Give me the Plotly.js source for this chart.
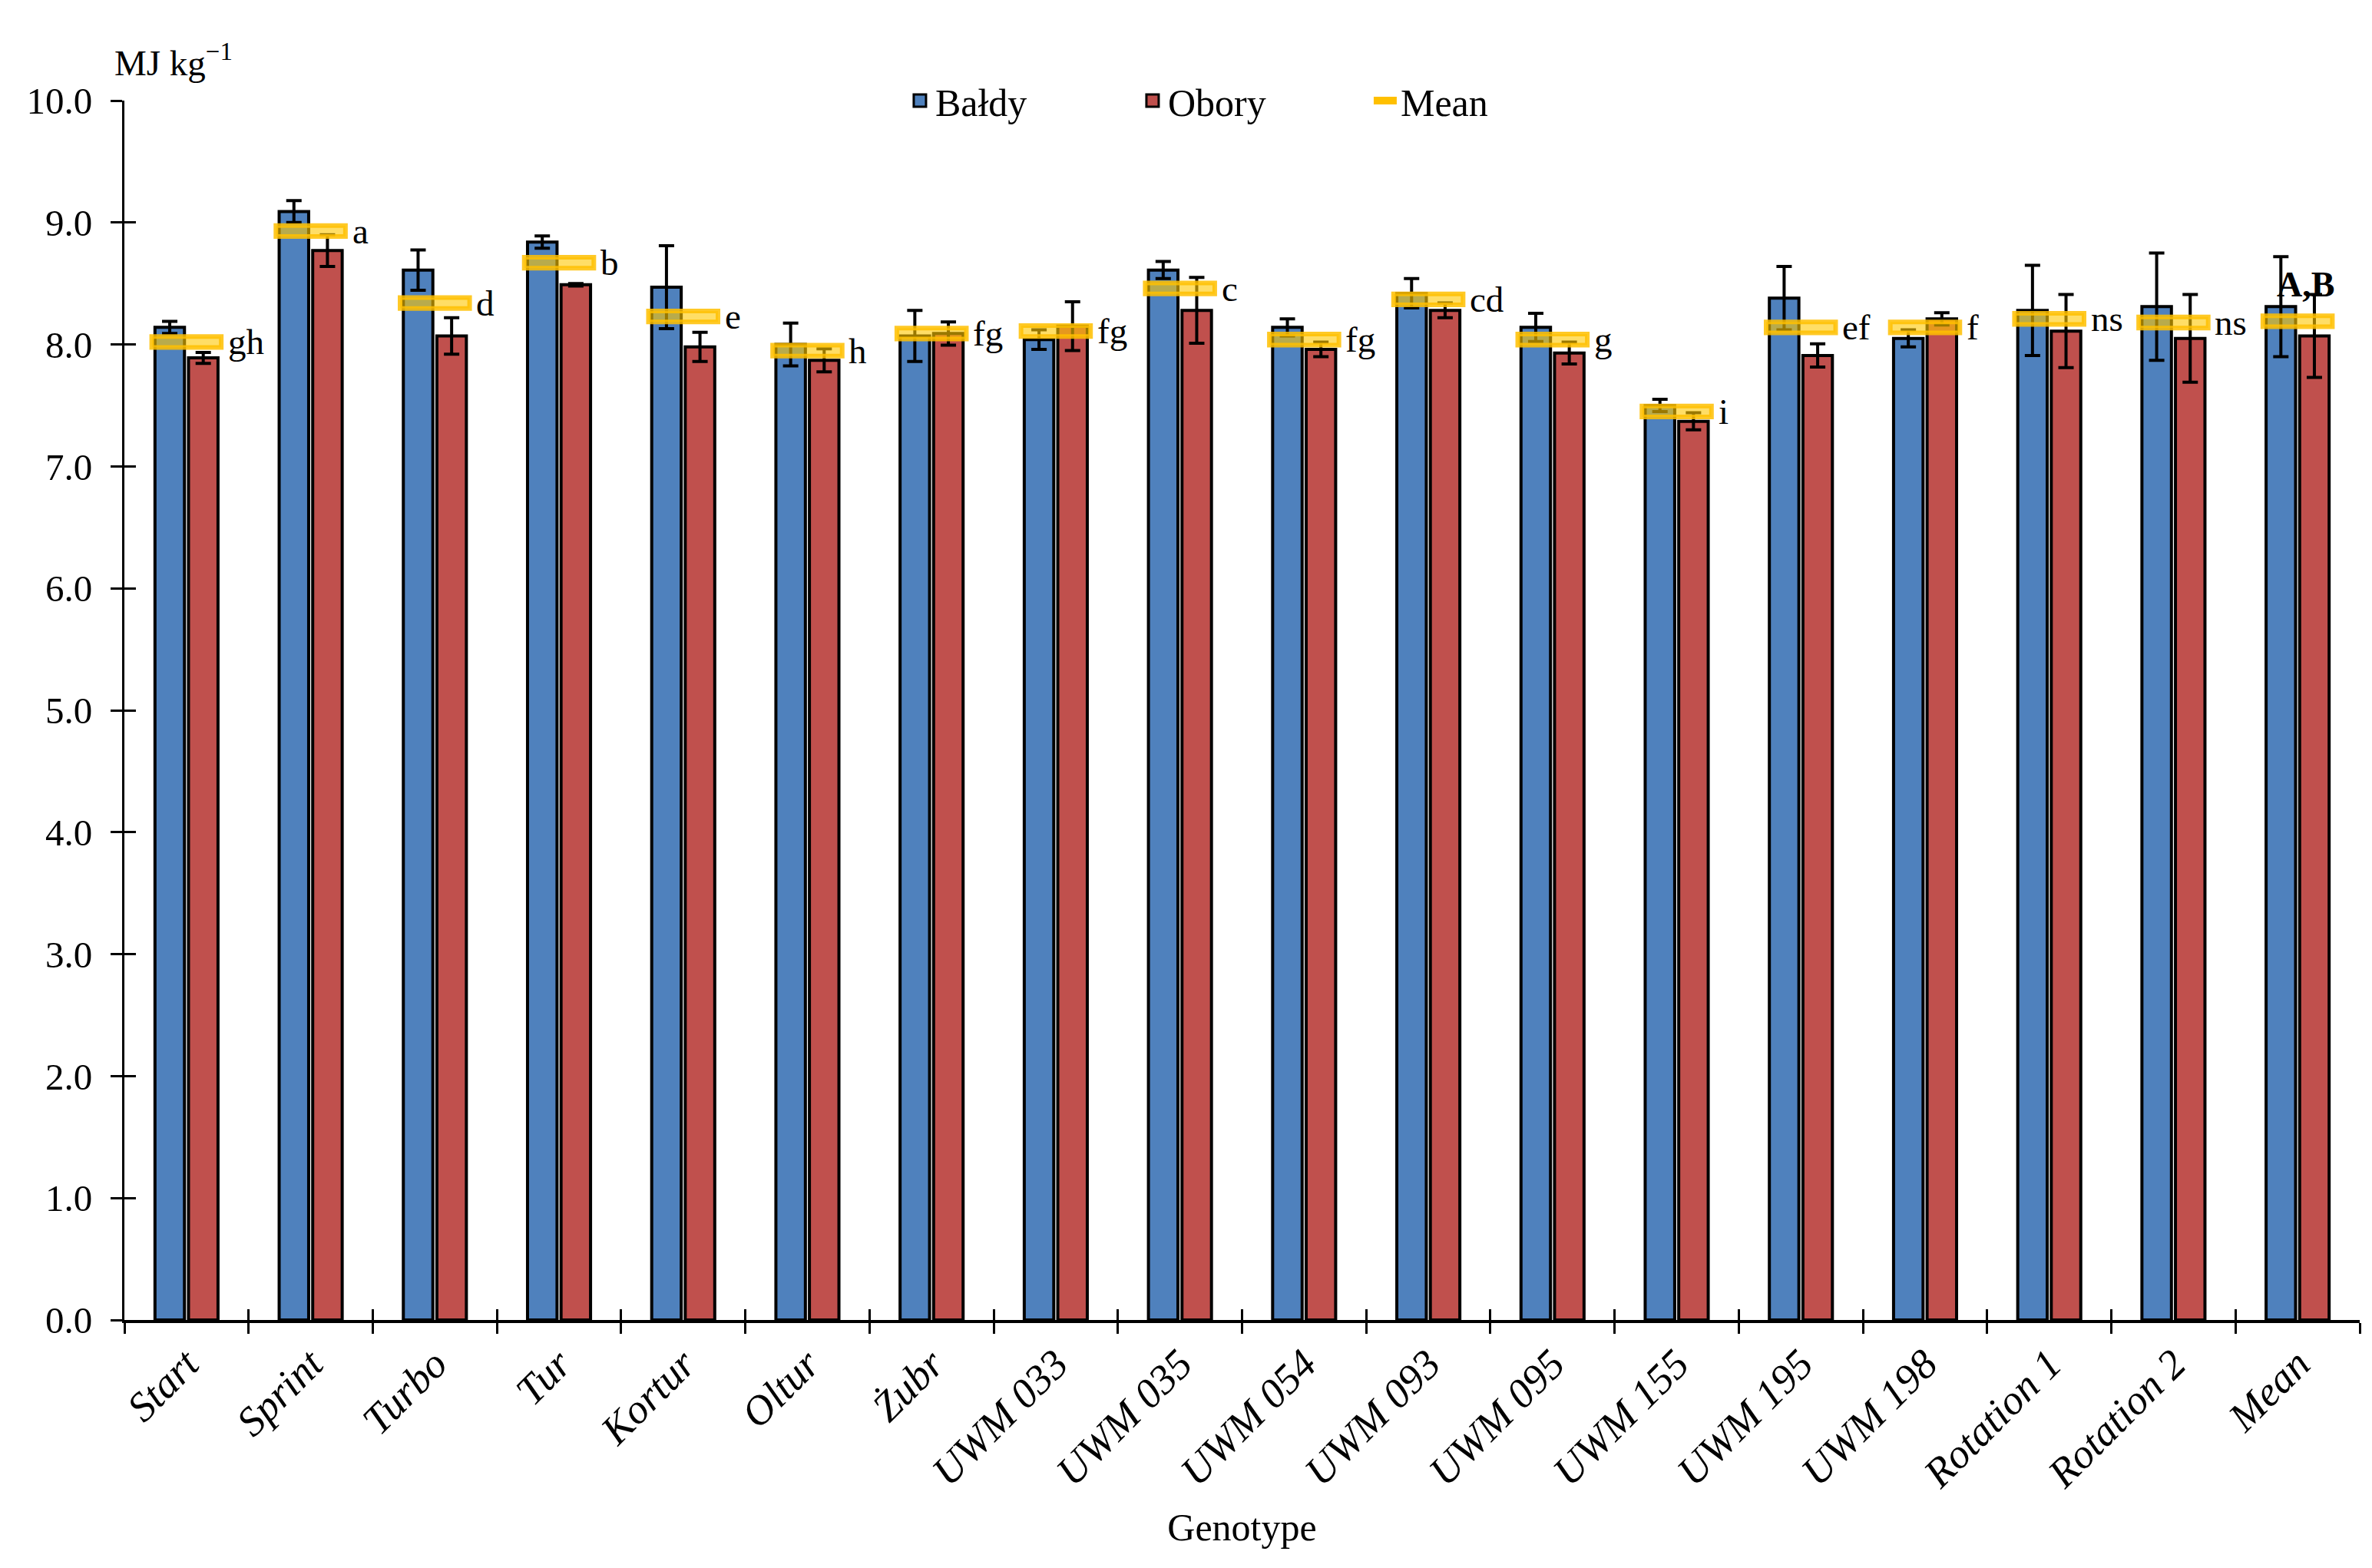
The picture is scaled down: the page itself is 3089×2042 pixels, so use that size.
<!DOCTYPE html>
<html>
<head>
<meta charset="utf-8">
<script src="https://cdn.plot.ly/plotly-3.0.1.min.js"></script>
<style>html,body{margin:0;padding:0;background:#fff;}#chart{width:3089px;height:2042px;}</style>
</head>
<body>
<div id="chart"></div>
<script>
const categories = ["Start","Sprint","Turbo","Tur","Kortur","Oltur","Żubr","UWM 033","UWM 035","UWM 054","UWM 093","UWM 095","UWM 155","UWM 195","UWM 198","Rotation 1","Rotation 2","Mean"];
const baldy    = [8.14, 9.09, 8.61, 8.84, 8.47, 8.00, 8.07, 8.04, 8.61, 8.14, 8.42, 8.14, 7.50, 8.38, 8.05, 8.28, 8.31, 8.31];
const baldyErr = [0.05, 0.09, 0.165, 0.05, 0.34, 0.175, 0.21, 0.08, 0.07, 0.07, 0.12, 0.115, 0.05, 0.26, 0.07, 0.37, 0.44, 0.41];
const obory    = [7.89, 8.77, 8.07, 8.49, 7.98, 7.87, 8.09, 8.15, 8.28, 7.96, 8.28, 7.93, 7.37, 7.91, 8.21, 8.11, 8.05, 8.07];
const oboryErr = [0.045, 0.13, 0.15, 0.01, 0.12, 0.095, 0.095, 0.20, 0.27, 0.06, 0.06, 0.09, 0.07, 0.095, 0.05, 0.30, 0.36, 0.34];
const means    = [8.02, 8.93, 8.34, 8.67, 8.23, 7.95, 8.09, 8.11, 8.46, 8.04, 8.37, 8.04, 7.45, 8.14, 8.14, 8.21, 8.18, 8.19];
const letters  = ["gh","a","d","b","e","h","fg","fg","c","fg","cd","g","i","ef","f","ns","ns",""];
const groupLabel = "A,B";
const yTicks = [0,1,2,3,4,5,6,7,8,9,10];

const FONT = "Liberation Serif";
const markHalf = 0.045;

const errStyle = {type:'data', visible:true, color:'#000', thickness:4, width:10};

const traces = [
  {type:'bar', name:'Bałdy', showlegend:false, x:categories, y:baldy, xaxis:'x', yaxis:'y',
   marker:{color:'#4F81BD', line:{color:'#000', width:4}},
   error_y:Object.assign({array:baldyErr}, errStyle)},
  {type:'bar', name:'Obory', showlegend:false, x:categories, y:obory, xaxis:'x', yaxis:'y',
   marker:{color:'#C0504D', line:{color:'#000', width:4}},
   error_y:Object.assign({array:oboryErr}, errStyle)},
  {type:'bar', name:'Mean', showlegend:false, x:categories,
   y:means.map(()=>2*markHalf), base:means.map(m=>m-markHalf),
   width:0.56, xaxis:'x2', yaxis:'y2',
   marker:{color:'rgba(255,200,0,0.6)', line:{color:'rgba(255,192,0,0.85)', width:6}}},
  {type:'scatter', mode:'markers', name:'Bałdy', x:[null], y:[null], xaxis:'x', yaxis:'y',
   marker:{symbol:'square', size:16, color:'#4F81BD', line:{color:'#000', width:3}}},
  {type:'scatter', mode:'markers', name:'Obory', x:[null], y:[null], xaxis:'x', yaxis:'y',
   marker:{symbol:'square', size:16, color:'#C0504D', line:{color:'#000', width:3}}},
  {type:'scatter', mode:'lines', name:'Mean', x:[null], y:[null], xaxis:'x', yaxis:'y',
   line:{color:'#FFC000', width:10}}
];

const annotations = categories.map((c,i)=>({
  x:c, y:means[i], xref:'x', yref:'y', text:letters[i], showarrow:false,
  xanchor:'left', yanchor:'middle', xshift:52,
  font:{family:FONT, size:47, color:'#000'}
})).filter(a=>a.text!=="");

annotations.push({
  x:categories[categories.length-1], y:means[means.length-1]+0.3, xref:'x', yref:'y',
  text:'<b>'+groupLabel+'</b>', showarrow:false, xanchor:'center', yanchor:'middle', xshift:10,
  font:{family:FONT, size:46, color:'#000'}
});
annotations.push({
  x:-0.005, y:1.033, xref:'paper', yref:'paper', text:'MJ kg<sup>−1</sup>', showarrow:false,
  xanchor:'left', yanchor:'middle', font:{family:FONT, size:47, color:'#000'}
});

const layout = {
  width:3089, height:2042,
  margin:{l:162, r:16, t:131, b:323},
  paper_bgcolor:'#fff', plot_bgcolor:'#fff',
  barmode:'group', bargap:0.46, bargroupgap:0.12,
  showlegend:true,
  legend:{orientation:'h', x:0.349, xanchor:'left', y:1.0, yanchor:'middle',
          font:{family:FONT, size:50, color:'#000'}, entrywidth:258, entrywidthmode:'pixels',
          bgcolor:'rgba(0,0,0,0)', traceorder:'normal'},
  font:{family:FONT, color:'#000'},
  xaxis:{type:'category', categoryorder:'array', categoryarray:categories, range:[-0.5,17.5],
         showline:true, linecolor:'#000', linewidth:4, ticks:'outside', tickson:'boundaries',
         ticklen:14, tickwidth:3, tickcolor:'#000', tickangle:-45, showgrid:false, zeroline:false,
         tickfont:{family:FONT, size:54, style:'italic', color:'#000'},
         title:{text:'Genotype', font:{family:FONT, size:50, color:'#000'}, standoff:24},
         automargin:false, fixedrange:true},
  xaxis2:{type:'category', categoryorder:'array', categoryarray:categories, range:[-0.5,17.5],
          overlaying:'x', matches:'x', showline:false, ticks:'inside', tickson:'boundaries',
          ticklen:14, tickwidth:3, tickcolor:'#000', showticklabels:false, showgrid:false, zeroline:false},
  yaxis:{range:[0,10], tickvals:yTicks, tickformat:'.1f', showline:true, linecolor:'#000', linewidth:3,
         ticks:'outside', ticklen:15, tickwidth:3, tickcolor:'#000', showgrid:false, zeroline:false,
         tickfont:{family:FONT, size:49, color:'#000'}, automargin:false, ticklabelstandoff:14},
  yaxis2:{range:[0,10], overlaying:'y', matches:'y', side:'left', tickvals:yTicks, ticks:'inside',
          ticklen:15, tickwidth:3, tickcolor:'#000', showticklabels:false, showgrid:false,
          zeroline:false, showline:false},
  annotations:annotations
};

Plotly.newPlot('chart', traces, layout, {staticPlot:true, displayModeBar:false});
</script>
</body>
</html>
